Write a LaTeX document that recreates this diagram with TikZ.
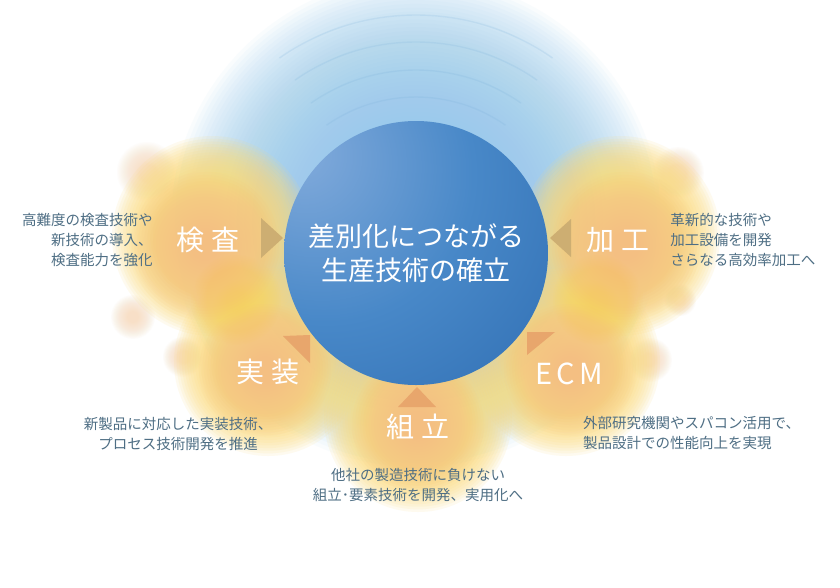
\documentclass[tikz,border=0pt]{standalone}
\usepackage{fontspec}
\setmainfont{Noto Sans CJK JP}
\usetikzlibrary{positioning}

\definecolor{haloblue}{RGB}{150,202,236}
\definecolor{haloline}{RGB}{120,175,218}
\definecolor{glowyellow}{RGB}{252,220,125}
\definecolor{glowpeach}{RGB}{245,186,130}
\definecolor{glowgold}{RGB}{252,212,90}
\definecolor{blobpeach}{RGB}{248,214,180}
\definecolor{corehi}{RGB}{132,172,220}
\definecolor{coremid}{RGB}{72,136,200}
\definecolor{coredark}{RGB}{40,102,172}
\definecolor{tiptan}{RGB}{205,174,114}
\definecolor{tiporange}{RGB}{232,166,108}
\definecolor{noteink}{RGB}{78,110,132}

% shading of the centre ball
\pgfdeclareradialshading{coreball}{\pgfpoint{-23bp}{20bp}}{color(0bp)=(corehi); color(28bp)=(coremid); color(62bp)=(coredark); color(110bp)=(coredark)}

% soft disc: colour, centre, outer radius, inner radius, layer opacity
\newcommand\softdisc[5]{%
  \foreach \i in {0,...,19}
    \fill[#1,fill opacity=#5] (#2) circle ({#4+(#3-#4)*\i/19});}

\begin{document}
\begin{tikzpicture}[
  x=1pt,y=-1pt,
  core/.style={circle,minimum size=264pt,inner sep=0pt,shading=coreball,text=white,align=center,font=\fontsize{27}{34}\selectfont},
  field/.style={text=white,inner sep=2pt,font=\fontsize{28}{28}\selectfont},
  note/.style={text=noteink,inner sep=0pt,font=\fontsize{14.5}{20}\selectfont},
  pointer/.style={draw=none}
]
  \fill[white] (0,0) rectangle (840,587);
  \useasboundingbox (0,0) rectangle (840,587);

  % blue halo
  \foreach \i in {0,...,39}
    \fill[haloblue,fill opacity=.055] (416,222) circle ({95+150*\i/39});
  \foreach \r in {156,183,211,238}
    \draw[haloline,line width=1.4pt,opacity=.18] (416,253) ++(235:\r) arc[start angle=235,end angle=305,radius=\r];

  % small glows
  \softdisc{blobpeach}{147,172}{30}{8}{.05}
  \softdisc{blobpeach}{133,317}{22}{6}{.05}
  \softdisc{blobpeach}{183,357}{20}{6}{.05}
  \softdisc{blobpeach}{678,173}{26}{8}{.05}
  \softdisc{blobpeach}{680,300}{16}{5}{.05}
  \softdisc{blobpeach}{650,360}{22}{6}{.05}

  % yellow glows
  \softdisc{glowyellow}{212,236}{100}{48}{.12}
  \softdisc{glowyellow}{620,236}{100}{48}{.12}
  \softdisc{glowyellow}{268,362}{94}{44}{.12}
  \softdisc{glowyellow}{418,418}{94}{44}{.12}
  \softdisc{glowyellow}{566,362}{94}{44}{.12}
  \softdisc{glowgold}{236,300}{45}{10}{.05}
  \softdisc{glowgold}{598,300}{45}{10}{.05}
  \softdisc{glowpeach}{205,246}{74}{15}{.06}
  \softdisc{glowpeach}{626,246}{74}{15}{.06}
  \softdisc{glowpeach}{265,370}{66}{14}{.06}
  \softdisc{glowpeach}{418,425}{66}{14}{.06}
  \softdisc{glowpeach}{570,370}{66}{14}{.06}

  % centre
  \node[core] (core) at (416,253) {差別化につながる\\生産技術の確立};

  % pointers
  \fill[pointer,tiptan] (261,218) -- (283,238) -- (261,258) -- cycle;
  \fill[pointer,tiptan] (571,219) -- (550,238) -- (571,257) -- cycle;
  \fill[pointer,tiporange] (283,336) -- (310,335) -- (310,363) -- cycle;
  \fill[pointer,tiporange] (417,387) -- (436,407) -- (398,407) -- cycle;
  \fill[pointer,tiporange] (527,332) -- (555,332) -- (527,355) -- cycle;

  % fields
  \node[field] (kensa) at (208,240) {検\hspace{.22em}査};
  \node[field] (kakou) at (618,240) {加\hspace{.22em}工};
  \node[field] (jissou) at (268,372) {実\hspace{.22em}装};
  \node[field] (kumitate) at (418,427) {組\hspace{.22em}立};
  \node[field,font=\fontsize{29}{29}\selectfont] (ecm) at (569,374) {E\hspace{.14em}C\hspace{.14em}M};

  % notes
  \node[note,align=right,left=22pt of kensa] (kensanote) {高難度の検査技術や\\新技術の導入、\\検査能力を強化};
  \node[note,align=left,right=19pt of kakou] (kakounote) {革新的な技術や\\加工設備を開発\\さらなる高効率加工へ};
  \node[note,align=center] (jissounote) at (178,434) {新製品に対応した実装技術、\\プロセス技術開発を推進};
  \node[note,align=center] (kumitatenote) at (418,485) {他社の製造技術に負けない\\組立･要素技術を開発、実用化へ};
  \node[note,align=left,anchor=west] (ecmnote) at (583,433) {外部研究機関やスパコン活用で、\\製品設計での性能向上を実現};
\end{tikzpicture}
\end{document}
